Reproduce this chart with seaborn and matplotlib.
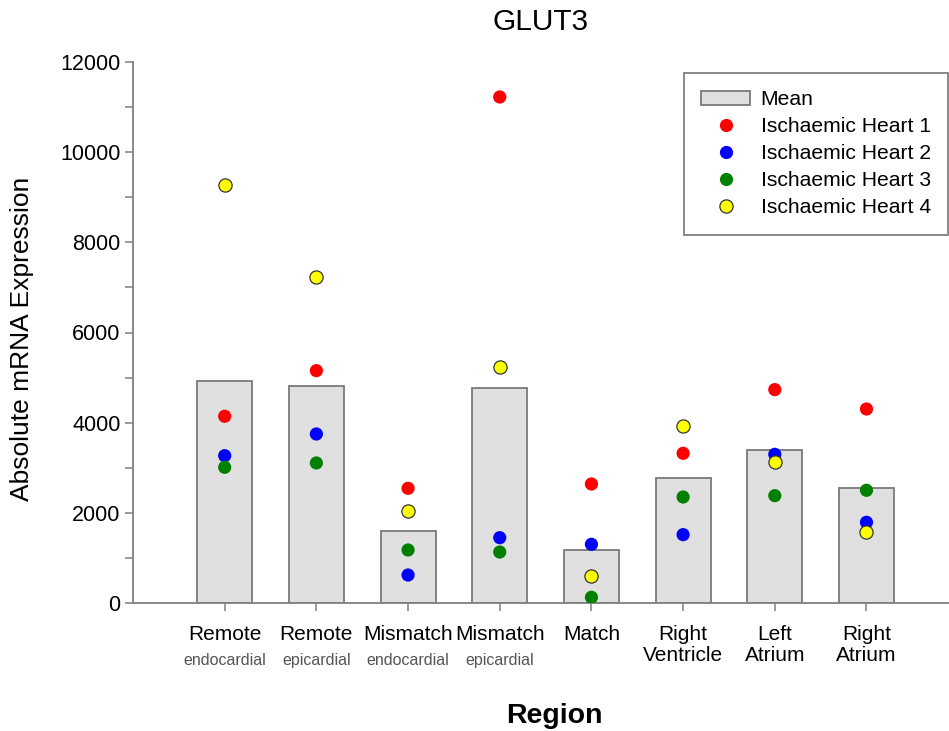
import numpy as np
import pandas as pd
import matplotlib
matplotlib.use("Agg")
import matplotlib.pyplot as plt
from matplotlib.patches import Patch
from matplotlib.lines import Line2D
from matplotlib.ticker import MultipleLocator
import seaborn as sns

# Sampling regions (x axis)
regions = ["Remote endocardial", "Remote epicardial", "Mismatch endocardial",
           "Mismatch epicardial", "Match", "Right Ventricle", "Left Atrium",
           "Right Atrium"]
tick_labels = ["Remote", "Remote", "Mismatch", "Mismatch", "Match",
               "Right\nVentricle", "Left\nAtrium", "Right\nAtrium"]
sub_labels = ["endocardial", "epicardial", "endocardial", "epicardial"]

# Absolute GLUT3 mRNA expression per heart
heart1 = [4142, 5154, 2544, 11224, 2640, 3320, 4733, 4303]
heart2 = [3268, 3749, 621, 1449, 1302, 1516, 3298, 1790]
heart3 = [3010, 3106, 1176, 1131, 126, 2351, 2381, 2500]
heart4 = [9280, 7225, 2048, 5228, 592, 3926, 3128, 1575]

series_names = ["Ischaemic Heart 1", "Ischaemic Heart 2",
                "Ischaemic Heart 3", "Ischaemic Heart 4"]
series_values = [heart1, heart2, heart3, heart4]
series_colors = ["#ff0000", "#0000ff", "#008000", "#ffff00"]
series_edges = ["none", "none", "none", "#333333"]

df = pd.concat(
    [pd.DataFrame({"region": regions, "value": vals, "heart": name})
     for name, vals in zip(series_names, series_values)],
    ignore_index=True)

sns.set_style("ticks")
plt.rcParams["font.family"] = ["Liberation Sans", "DejaVu Sans"]
plt.rcParams["text.color"] = "black"
plt.rcParams["axes.labelcolor"] = "black"
plt.rcParams["xtick.labelcolor"] = "black"
plt.rcParams["ytick.labelcolor"] = "black"

fig = plt.figure(figsize=(9.49, 7.31), dpi=100)
ax = fig.add_axes([133 / 949, 1 - 603 / 731, 816 / 949, 541 / 731])

bar_face = "#e0e0e0"
bar_edge = "#7a7a7a"
sns.barplot(data=df, x="region", y="value", order=regions, estimator="mean",
            errorbar=None, color=bar_face, edgecolor=bar_edge, linewidth=1.3,
            width=0.6, saturation=1, ax=ax)

for name, col, edge in zip(series_names, series_colors, series_edges):
    sub = df[df["heart"] == name]
    sns.stripplot(data=sub, x="region", y="value", order=regions, jitter=False,
                  color=col, size=9.5, linewidth=0.9 if edge != "none" else 0,
                  edgecolor=edge, ax=ax, zorder=3)

ax.set_xlim(-1.0, 7.9)
ax.set_ylim(0, 12000)
ax.yaxis.set_major_locator(MultipleLocator(2000))
ax.yaxis.set_minor_locator(MultipleLocator(1000))

spine_col = "#808080"
sns.despine(ax=ax)
for side in ("left", "bottom"):
    ax.spines[side].set_color(spine_col)
    ax.spines[side].set_linewidth(1.3)
ax.tick_params(axis="both", which="both", direction="out", length=6,
               width=1.1, color=spine_col)
ax.tick_params(axis="y", labelsize=15.5, pad=3, labelcolor="black")

ax.set_xticks(range(len(regions)))
ax.set_xticklabels(tick_labels, fontsize=15, linespacing=1.1, color="black")
ax.tick_params(axis="x", pad=10)

for i, s in enumerate(sub_labels):
    ax.annotate(s, xy=(i, 0), xycoords=ax.get_xaxis_transform(),
                xytext=(0, -44.5), textcoords="offset points",
                ha="center", va="baseline", fontsize=11.5, color="#555555")

ax.set_title("GLUT3", fontsize=21.5, pad=23, color="black")
ax.set_xlabel("Region", fontsize=20.5, fontweight="bold", va="baseline",
              color="black")
ax.xaxis.set_label_coords(0.517, -0.222)
ax.set_ylabel("Absolute mRNA Expression", fontsize=19, color="black")
ax.yaxis.set_label_coords(-0.121, 0.489)

handles = [Patch(facecolor=bar_face, edgecolor=bar_edge, linewidth=1.3,
                 label="Mean")]
for name, col, edge in zip(series_names, series_colors, series_edges):
    handles.append(Line2D([], [], linestyle="none", marker="o", markersize=9.5,
                          markerfacecolor=col,
                          markeredgecolor=edge if edge != "none" else col,
                          markeredgewidth=0.9 if edge != "none" else 0,
                          label=name))
leg = ax.legend(handles=handles, loc="upper right",
                bbox_to_anchor=(948 / 949, 1 - 73 / 731),
                bbox_transform=fig.transFigure, borderaxespad=0,
                fontsize=15.2, frameon=True, fancybox=False, framealpha=1,
                handlelength=2.3, handleheight=0.7, labelspacing=0.38,
                handletextpad=0.5, borderpad=0.82)
leg.get_frame().set_edgecolor(spine_col)
leg.get_frame().set_linewidth(1.3)

fig.savefig("out.png", dpi=100)
